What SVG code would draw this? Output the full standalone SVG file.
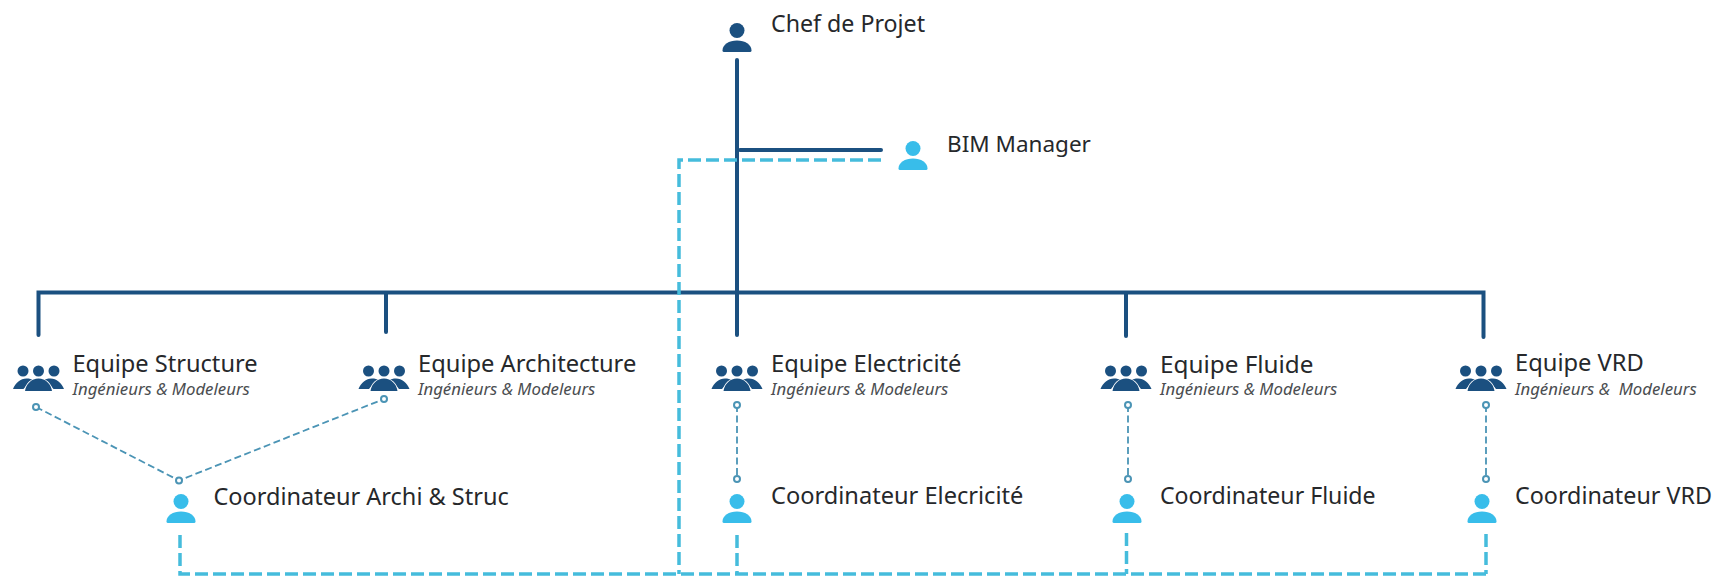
<svg xmlns="http://www.w3.org/2000/svg" width="1724" height="576" viewBox="0 0 1724 576">
<style>
text{font-family:"Noto Sans","Liberation Sans",sans-serif;fill:#26282b;font-size:23.600px}
text.s{font-size:16.800px;font-style:italic;fill:#4a4d50}
.solid{fill:none;stroke:#1b5080;stroke-width:4;stroke-linecap:round}
.dash{fill:none;stroke:#45bcdc;stroke-width:3.500;stroke-dasharray:13 5}
.thin{fill:none;stroke:#4b94b5;stroke-width:1.800;stroke-dasharray:7 3.500}
.dot{fill:#fff;stroke:#4b94b5;stroke-width:2}
.dark{fill:#1b5080}
.light{fill:#38bdea}
</style>
<defs>
<g id="person"><circle cx="0" cy="-21.500" r="7.500"/><path d="M-14.500-1.500C-14.500-7.500-8-11.500 0-11.500C8-11.500 14.500-7.500 14.500-1.500Q14.500 0 13 0H-13Q-14.500 0-14.500-1.500Z"/></g>
<g id="team"><circle cx="-15.500" cy="-20" r="5.500"/><circle cx="0" cy="-20" r="5.500"/><circle cx="15.500" cy="-20" r="5.500"/><path d="M-25.500-2C-23-8-18-12.500-12-12.500C-9-12.500-7-12-5-10.500C-9-8-13-5-15-2Z"/><path d="M25.500-2C23-8 18-12.500 12-12.500C9-12.500 7-12 5-10.500C9-8 13-5 15-2Z"/><path d="M-13.500 0C-12.500-7-7-12.500 0-12.500C7-12.500 12.500-7 13.500 0Z" stroke="#fff" stroke-width="1.500" paint-order="stroke"/></g>
</defs>
<rect width="1724" height="576" fill="#fff"/>
<g id="connectors">
<path class="solid" d="M737 60V335M740 150H881M38.500 335V292.500H1483.500V337M386 292.500V332M1126 292.500V336"/>
<path class="dash" d="M881 160H679V574M180 535V574H1486M737 535V574M1126.500 533V574M1486 534V574"/>
<path class="thin" d="M36 407L179 480.500L384 399M737 405V479M1128 405V479M1486 405V479"/>
<g>
<circle class="dot" cx="36" cy="407" r="3"/><circle class="dot" cx="179" cy="480.500" r="3"/><circle class="dot" cx="384" cy="399" r="3"/>
<circle class="dot" cx="737" cy="405" r="3"/><circle class="dot" cx="737" cy="479" r="3"/>
<circle class="dot" cx="1128" cy="405" r="3"/><circle class="dot" cx="1128" cy="479" r="3"/>
<circle class="dot" cx="1486" cy="405" r="3"/><circle class="dot" cx="1486" cy="479" r="3"/>
</g>
</g>
<g id="chef"><use href="#person" class="dark" x="737" y="52"/><text style="font-size:23.200px" x="771" y="32">Chef de Projet</text></g>
<g id="bim"><use href="#person" class="light" x="913" y="170"/><text style="font-size:22.500px" x="947" y="152">BIM Manager</text></g>
<g id="equipe-structure"><use href="#team" class="dark" x="38.500" y="391"/><text x="72.500" y="372">Equipe Structure</text><text class="s" x="72.500" y="395">Ingénieurs &amp; Modeleurs</text></g>
<g id="equipe-architecture"><use href="#team" class="dark" x="384" y="391"/><text style="font-size:23.700px" x="418" y="372">Equipe Architecture</text><text class="s" x="418" y="395">Ingénieurs &amp; Modeleurs</text></g>
<g id="equipe-electricite"><use href="#team" class="dark" x="737" y="391"/><text style="font-size:23.700px" x="771" y="372">Equipe Electricité</text><text class="s" x="771" y="395">Ingénieurs &amp; Modeleurs</text></g>
<g id="equipe-fluide"><use href="#team" class="dark" x="1126" y="391"/><text style="font-size:24.300px" x="1160" y="373">Equipe Fluide</text><text class="s" x="1160" y="395">Ingénieurs &amp; Modeleurs</text></g>
<g id="equipe-vrd"><use href="#team" class="dark" x="1481" y="391"/><text style="font-size:23.700px" x="1515" y="371">Equipe VRD</text><text class="s" x="1515" y="395" xml:space="preserve">Ingénieurs &amp;  Modeleurs</text></g>
<g id="coord-archi"><use href="#person" class="light" x="181" y="523"/><text style="font-size:23.500px" x="213.500" y="505">Coordinateur Archi &amp; Struc</text></g>
<g id="coord-elec"><use href="#person" class="light" x="737" y="523"/><text x="771" y="504">Coordinateur Elecricité</text></g>
<g id="coord-fluide"><use href="#person" class="light" x="1127" y="523"/><text style="font-size:23.100px" x="1160" y="504">Coordinateur Fluide</text></g>
<g id="coord-vrd"><use href="#person" class="light" x="1482" y="523"/><text style="font-size:23.300px" x="1515" y="504">Coordinateur VRD</text></g>
</svg>
